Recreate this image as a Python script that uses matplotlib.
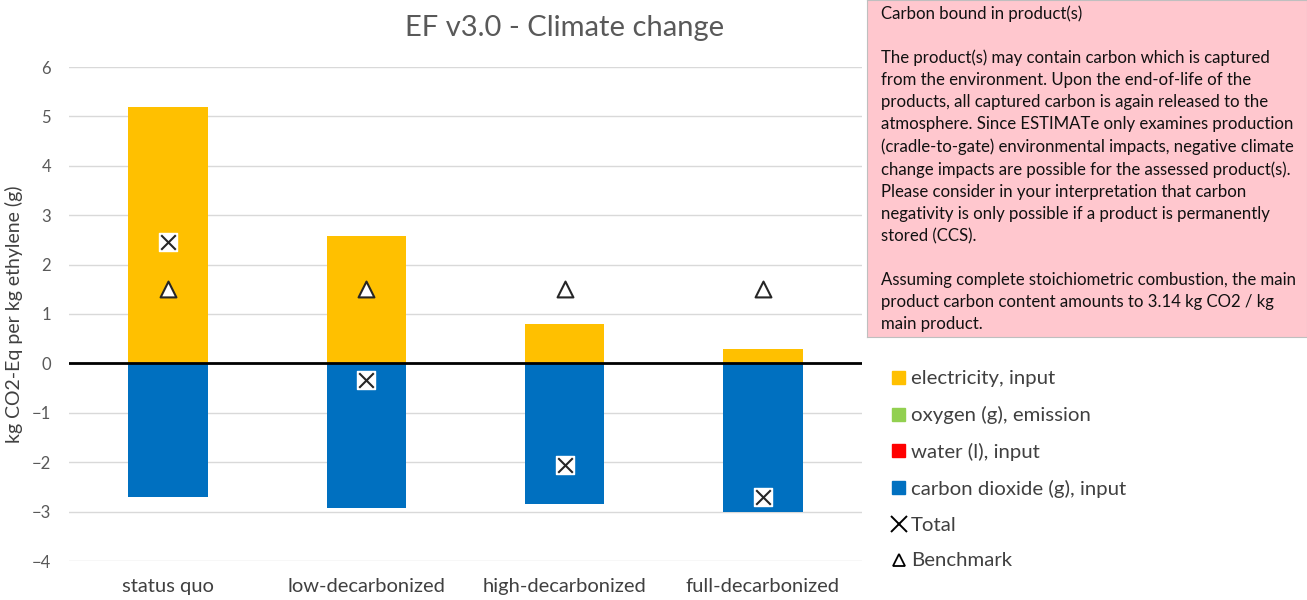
import numpy as np
import matplotlib.pyplot as plt
from matplotlib.lines import Line2D
from matplotlib.patches import Patch

# datos
categorias = ['status quo', 'low-decarbonized', 'high-decarbonized', 'full-decarbonized']
electricidad = [5.19, 2.57, 0.79, 0.30]
oxigeno = [0.0, 0.0, 0.0, 0.0]
agua = [0.0, 0.0, 0.0, 0.0]
co2 = [-2.71, -2.93, -2.85, -3.01]
total = [2.46, -0.34, -2.06, -2.71]
benchmark = [1.5, 1.5, 1.5, 1.5]
yticks = [-4, -3, -2, -1, 0, 1, 2, 3, 4, 5, 6]

plt.rcParams['font.family'] = ['Lato', 'DejaVu Sans']

fig = plt.figure(figsize=(13.07, 6), dpi=100)
ax = fig.add_axes([69 / 1307, 1 - 561 / 600, (862 - 69) / 1307, (561 - 67) / 600])

x = np.arange(len(categorias))
ancho = 0.4
ax.bar(x, electricidad, ancho, color='#FFC000', zorder=2)
ax.bar(x, oxigeno, ancho, color='#92D050', zorder=2)
ax.bar(x, agua, ancho, color='#FF0000', zorder=2)
ax.bar(x, co2, ancho, color='#0070C0', zorder=2)

ax.axhline(0, color='black', lw=2, zorder=3)

ax.scatter(x, total, marker='s', s=150, color='white', zorder=4)
ax.scatter(x, total, marker='x', s=110, color='#262626', linewidths=1.5, zorder=5)
ax.scatter(x, benchmark, marker='^', s=130, facecolor='white', edgecolor='#262626',
           linewidths=1.5, zorder=5)

ax.set_xlim(-0.5, len(categorias) - 0.5)
ax.set_ylim(-4, 6)
ax.set_yticks(yticks)
ax.set_xticks(x)
ax.set_xticklabels(categorias, fontsize=14.5, color='#404040')
ax.tick_params(axis='y', labelsize=12, labelcolor='#595959', length=0, pad=13)
ax.tick_params(axis='x', length=0, pad=12)
ax.grid(axis='y', color='#D9D9D9', lw=1, zorder=0)
for s in ax.spines.values():
    s.set_visible(False)

ax.set_ylabel('kg CO2-Eq per kg ethylene (g)', fontsize=14, color='#404040', labelpad=6)
fig.text(565 / 1307, 1 - 28 / 600, 'EF v3.0 - Climate change', fontsize=21,
         color='#595959', ha='center', va='center')

# caja de texto
caja = fig.add_axes([867 / 1307, 1 - 337 / 600, 440 / 1307, 337 / 600])
caja.set_xticks([])
caja.set_yticks([])
caja.set_facecolor('#FFC7CE')
for s in caja.spines.values():
    s.set_color('#BFBFBF')
texto = ('Carbon bound in product(s)\n\n'
         'The product(s) may contain carbon which is captured\n'
         'from the environment. Upon the end-of-life of the\n'
         'products, all captured carbon is again released to the\n'
         'atmosphere. Since ESTIMATe only examines production\n'
         '(cradle-to-gate) environmental impacts, negative climate\n'
         'change impacts are possible for the assessed product(s).\n'
         'Please consider in your interpretation that carbon\n'
         'negativity is only possible if a product is permanently\n'
         'stored (CCS).\n\n'
         'Assuming complete stoichiometric combustion, the main\n'
         'product carbon content amounts to 3.14 kg CO2 / kg\n'
         'main product.')
caja.text(14 / 440, 1 - 5 / 337, texto, transform=caja.transAxes, fontsize=12.1,
          color='#111111', va='top', ha='left', linespacing=1.46)

# leyenda
handles = [
    Patch(color='#FFC000', label='electricity, input'),
    Patch(color='#92D050', label='oxygen (g), emission'),
    Patch(color='#FF0000', label='water (l), input'),
    Patch(color='#0070C0', label='carbon dioxide (g), input'),
    Line2D([], [], marker='x', ls='none', color='black', markersize=11, mew=1.4, label='Total'),
    Line2D([], [], marker='^', ls='none', mfc='white', mec='black', markersize=8, mew=1.3,
           label='Benchmark'),
]
fig.legend(handles=handles, loc='upper left', bbox_to_anchor=(874 / 1307, 1 - 352 / 600),
           frameon=False, fontsize=14.7, labelcolor='#404040', handlelength=0.6,
           handleheight=0.6, handletextpad=0.3, labelspacing=0.92)

fig.savefig('out.png', dpi=100)
